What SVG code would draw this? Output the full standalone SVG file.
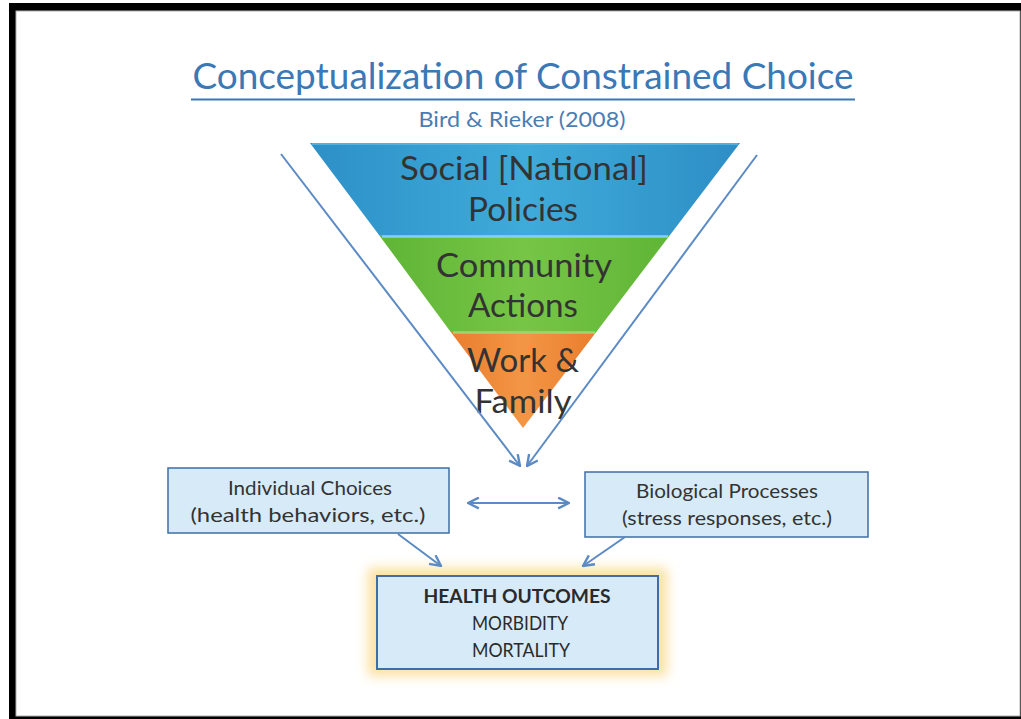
<svg xmlns="http://www.w3.org/2000/svg" width="1021" height="719" viewBox="0 0 1021 719">
<style>
.t{font-family:Lato,"Open Sans","Liberation Sans",sans-serif;text-anchor:middle}
.title{font-size:37px;fill:#3b78b6}
.sub{font-size:22px;fill:#4a7db3}
.tri{font-size:32px;fill:#333333}
.box{font-size:19px;fill:#333333}
.hb{font-size:19px;fill:#2a2a2a}
.conn{stroke:#5b8ac4;stroke-width:2;fill:none}
.nodebox{fill:#d6ebf7;stroke:#3f6ea6;stroke-width:1.5}
</style>
<defs>
<marker id="ah" viewBox="0 0 12 12" refX="11" refY="6" markerWidth="13" markerHeight="13" markerUnits="userSpaceOnUse" orient="auto-start-reverse">
<path d="M1,1 L11,6 L1,11" fill="none" stroke="#5b8ac4" stroke-width="2.2"/>
</marker>
<linearGradient id="gBlue" x1="0" y1="0" x2="1" y2="0">
<stop offset="0" stop-color="#2d90c7"/><stop offset="0.5" stop-color="#3fabda"/><stop offset="1" stop-color="#2d8ec5"/>
</linearGradient>
<linearGradient id="gGreen" x1="0" y1="0" x2="1" y2="0">
<stop offset="0" stop-color="#5fb536"/><stop offset="0.5" stop-color="#77c546"/><stop offset="1" stop-color="#5fb536"/>
</linearGradient>
<linearGradient id="gOrange" x1="0" y1="0" x2="1" y2="0">
<stop offset="0" stop-color="#ea7d2e"/><stop offset="0.5" stop-color="#f29645"/><stop offset="1" stop-color="#ea7d2e"/>
</linearGradient>
<filter id="glow" x="-20%" y="-30%" width="140%" height="160%">
<feGaussianBlur stdDeviation="6"/>
</filter>
</defs>

<g id="frame">
<rect x="0" y="0" width="1021" height="719" fill="#ffffff"/>
<rect x="9" y="3" width="1012" height="716" fill="#000000"/>
<rect x="16" y="11" width="1004" height="705" fill="#ffffff" stroke="#b0b0b0" stroke-width="1"/>
</g>

<g id="title">
<text class="t title" x="523" y="89" textLength="661" lengthAdjust="spacingAndGlyphs">Conceptualization of Constrained Choice</text>
<line x1="191" y1="99.5" x2="855" y2="99.5" stroke="#3b78b6" stroke-width="2"/>
<text class="t sub" x="522" y="127" textLength="207" lengthAdjust="spacingAndGlyphs">Bird &amp; Rieker (2008)</text>
</g>

<g id="pyramid">
<polygon points="310,143 740,143 670,235 379,235" fill="url(#gBlue)"/>
<polygon points="379,235 670,235 597,331 450,331" fill="url(#gGreen)"/>
<polygon points="450,331 597,331 523,428" fill="url(#gOrange)"/>
<line x1="382" y1="236.5" x2="668" y2="236.5" stroke="#82d2ef" stroke-width="2.5"/>
<line x1="453" y1="332.5" x2="595" y2="332.5" stroke="#9bd76c" stroke-width="2.5"/>
<line x1="312" y1="144" x2="738" y2="144" stroke="#5cbbe3" stroke-width="1.5"/>
</g>

<g id="node-social">
<text class="t tri" x="524" y="180" textLength="248" lengthAdjust="spacingAndGlyphs">Social [National]</text>
<text class="t tri" x="523" y="221" textLength="110" lengthAdjust="spacingAndGlyphs">Policies</text>
</g>
<g id="node-community">
<text class="t tri" x="524" y="277" textLength="176" lengthAdjust="spacingAndGlyphs">Community</text>
<text class="t tri" x="523" y="317" textLength="110" lengthAdjust="spacingAndGlyphs">Actions</text>
</g>
<g id="node-work">
<text class="t tri" x="523" y="372" textLength="112" lengthAdjust="spacingAndGlyphs">Work &amp;</text>
<text class="t tri" x="523" y="413" textLength="97" lengthAdjust="spacingAndGlyphs">Family</text>
</g>

<g id="node-individual">
<rect class="nodebox" x="168" y="468" width="281" height="65"/>
<text class="t box" x="310" y="495" textLength="164" lengthAdjust="spacingAndGlyphs">Individual Choices</text>
<text class="t box" x="308" y="522" textLength="235" lengthAdjust="spacingAndGlyphs">(health behaviors, etc.)</text>
</g>

<g id="node-biological">
<rect class="nodebox" x="585" y="472" width="283" height="65"/>
<text class="t box" x="727" y="498" textLength="182" lengthAdjust="spacingAndGlyphs">Biological Processes</text>
<text class="t box" x="727" y="525" textLength="210" lengthAdjust="spacingAndGlyphs">(stress responses, etc.)</text>
</g>

<g id="node-health">
<rect x="368" y="568" width="299" height="108" fill="#fbe0a0" filter="url(#glow)"/>
<rect x="377" y="576" width="281" height="93" fill="#d6ebf7" stroke="#3f6ea6" stroke-width="2"/>
<text class="t hb" x="517" y="603" font-weight="bold" textLength="187" lengthAdjust="spacingAndGlyphs">HEALTH OUTCOMES</text>
<text class="t hb" x="520" y="630" textLength="96" lengthAdjust="spacingAndGlyphs">MORBIDITY</text>
<text class="t hb" x="521" y="657" textLength="98" lengthAdjust="spacingAndGlyphs">MORTALITY</text>
</g>

<g id="connectors">
<line class="conn" x1="281" y1="154" x2="520" y2="466" marker-end="url(#ah)"/>
<line class="conn" x1="757" y1="155" x2="527" y2="466" marker-end="url(#ah)"/>
<line class="conn" x1="468" y1="503" x2="569" y2="503" marker-start="url(#ah)" marker-end="url(#ah)"/>
<line class="conn" x1="398" y1="534" x2="441" y2="566" marker-end="url(#ah)"/>
<line class="conn" x1="625" y1="537" x2="583" y2="566" marker-end="url(#ah)"/>
</g>
</svg>
